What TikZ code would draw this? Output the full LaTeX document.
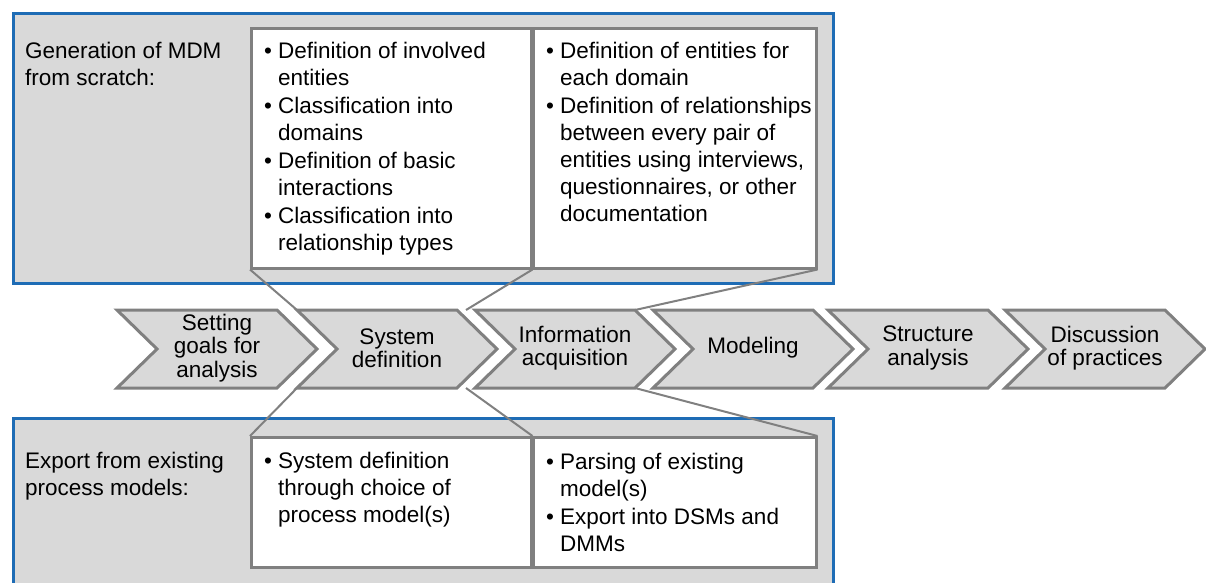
\documentclass[tikz,border=0pt]{standalone}
\usepackage{fontspec}
\setmainfont{Liberation Sans}
\usetikzlibrary{calc}
\definecolor{frameblue}{RGB}{30,108,181}
\definecolor{boxgray}{RGB}{217,217,217}
\definecolor{linegray}{RGB}{128,128,128}
\newcommand{\bul}{\makebox[14pt][l]{\textbullet}}
\newcommand{\cont}{\hspace*{14pt}}
\newcommand{\chev}[3]{%
  \draw[chevron] (#2,310) coordinate (#1-tl) -- (#2+160,310) coordinate (#1-tr)
    -- (#2+200,349) -- (#2+160,388) coordinate (#1-br) -- (#2,388) coordinate (#1-bl)
    -- (#2+40,349) -- cycle;
  \node[chevtxt] (#1) at (#2+100,348) {#3};}
\begin{document}
\begin{tikzpicture}[x=1pt,y=-1pt,
  txt/.style={font=\fontsize{22.5}{27}\selectfont, inner sep=0pt, align=left, anchor=north west},
  chevtxt/.style={font=\fontsize{22.5}{23.5}\selectfont, inner sep=0pt, align=center},
  bluebox/.style={draw=frameblue, line width=3.5pt, fill=boxgray, inner sep=0pt, anchor=north west},
  wbox/.style={draw=linegray, line width=2.5pt, fill=white, inner sep=0pt, anchor=north west},
  callout/.style={draw=linegray, line width=2pt},
  chevron/.style={draw=linegray, line width=3pt, fill=boxgray, line join=miter}
]
\useasboundingbox (0,0) rectangle (1206,582);
% frames
\node[bluebox, minimum width=820pt, minimum height=270pt] (topframe) at (11.5,11.5) {};
\node[bluebox, minimum width=820pt, minimum height=200pt] (botframe) at (11.5,416.5) {};
% white boxes
\node[wbox, minimum width=280pt, minimum height=240pt] (t1) at (250,27) {};
\node[wbox, minimum width=283pt, minimum height=240pt] (t2) at (532,27) {};
\node[wbox, minimum width=280pt, minimum height=130pt] (b1) at (250,436) {};
\node[wbox, minimum width=283pt, minimum height=130pt] (b2) at (532,436) {};
% labels
\node[txt] (lbltop) at (25,41.5) {Generation of MDM\\from scratch:};
\node[txt] (lblbot) at (25,451.5) {Export from existing\\process models:};
% bullet texts
\node[txt] (t1txt) at (264,41.5) {\bul Definition of involved\\\cont entities\\[1pt]
  \bul Classification into\\\cont domains\\[1pt]
  \bul Definition of basic\\\cont interactions\\[1pt]
  \bul Classification into\\\cont relationship types};
\node[txt] (t2txt) at (546,41.5) {\bul Definition of entities for\\\cont each domain\\[1pt]
  \bul Definition of relationships\\\cont between every pair of\\\cont entities using interviews,\\\cont questionnaires, or other\\\cont documentation};
\node[txt] (b1txt) at (264,451.5) {\bul System definition\\\cont through choice of\\\cont process model(s)};
\node[txt] (b2txt) at (546,452.5) {\bul Parsing of existing\\\cont model(s)\\[1pt]
  \bul Export into DSMs and\\\cont DMMs};
% chevrons
\chev{c1}{117}{Setting\\goals for\\analysis}
\chev{c2}{297}{System\\definition}
\chev{c3}{475}{Information\\acquisition}
\chev{c4}{653}{Modeling}
\chev{c5}{828}{Structure\\analysis}
\chev{c6}{1005}{Discussion\\of practices}
% callouts
\coordinate (m23t) at ($(c2-tr)!0.5!(c3-tl)$);
\coordinate (m23b) at ($(c2-br)!0.5!(c3-bl)$);
\draw[callout] (t1.south west) -- (c2-tl);
\draw[callout] (t1.south east) -- (m23t);
\draw[callout] (t2.south east) -- (c3-tr);
\draw[callout] (b1.north west) -- (c2-bl);
\draw[callout] (b1.north east) -- (m23b);
\draw[callout] (b2.north east) -- (c3-br);
\end{tikzpicture}
\end{document}
